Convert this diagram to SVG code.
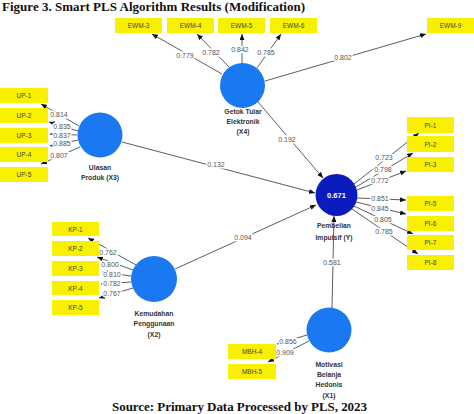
<svg xmlns="http://www.w3.org/2000/svg" width="474" height="414" viewBox="0 0 474 414">
<defs>
<marker id="ah" markerUnits="userSpaceOnUse" markerWidth="6" markerHeight="5" refX="6" refY="2.5" orient="auto">
<path d="M0,0 L6,2.5 L0,5 z" fill="#111"/>
</marker>
<style>
.title{font-family:"Liberation Serif",serif;font-weight:bold;font-size:13px;fill:#111}
.box{fill:#f8f000}
.bt{font-family:"Liberation Sans",sans-serif;font-size:6.5px;fill:#444;text-anchor:middle}
.lv{fill:#1a78f0}
.lvy{fill:#0a1cbe}
.nl{font-family:"Liberation Sans",sans-serif;font-size:6.8px;font-weight:bold;fill:#333;text-anchor:middle}
.ld{font-family:"Liberation Sans",sans-serif;font-size:7px;fill:#555;text-anchor:middle;paint-order:stroke;stroke:#fff;stroke-width:3px}
.c line{stroke:#333;stroke-width:0.8;marker-end:url(#ah)}
</style>
</defs>
<rect width="474" height="414" fill="#fff"/>
<text class="title" x="2" y="11" textLength="303">Figure 3. Smart PLS Algorithm Results (Modification)</text>
<text class="title" x="112" y="411" textLength="255">Source: Primary Data Processed by PLS, 2023</text>

<g id="connectors" class="c">
<line x1="222" y1="74" x2="152" y2="34"/>
<line x1="229" y1="67" x2="197" y2="34"/>
<line x1="242" y1="63" x2="242" y2="34"/>
<line x1="257" y1="68" x2="281" y2="34"/>
<line x1="265" y1="81" x2="426" y2="34"/>
<line x1="79" y1="126" x2="41" y2="104"/>
<line x1="78" y1="131" x2="49" y2="122"/>
<line x1="77" y1="135" x2="50" y2="134"/>
<line x1="78" y1="140" x2="50" y2="146"/>
<line x1="80" y1="147" x2="41" y2="164"/>
<line x1="354" y1="184" x2="419" y2="133"/>
<line x1="356" y1="187" x2="413" y2="153"/>
<line x1="357" y1="190" x2="406" y2="171"/>
<line x1="357" y1="198" x2="406" y2="200"/>
<line x1="356" y1="202" x2="406" y2="214"/>
<line x1="354" y1="206" x2="413" y2="234"/>
<line x1="352" y1="209" x2="418" y2="254"/>
<line x1="136" y1="265" x2="88" y2="238"/>
<line x1="133" y1="270" x2="97" y2="257"/>
<line x1="131" y1="276" x2="102" y2="272"/>
<line x1="131" y1="282" x2="101" y2="284"/>
<line x1="133" y1="288" x2="99" y2="298"/>
<line x1="307" y1="335" x2="277" y2="344"/>
<line x1="309" y1="341" x2="268" y2="362"/>
<line x1="258" y1="102" x2="323" y2="178"/>
<line x1="122" y1="142" x2="315" y2="193"/>
<line x1="175" y1="269" x2="316" y2="205"/>
<line x1="332" y1="308" x2="334" y2="216"/>
</g>

<g id="loadings">
<text class="ld" x="185" y="58">0.779</text>
<text class="ld" x="211" y="55">0.782</text>
<text class="ld" x="240" y="52">0.842</text>
<text class="ld" x="266" y="55">0.785</text>
<text class="ld" x="343" y="60">0.802</text>
<text class="ld" x="59" y="117">0.814</text>
<text class="ld" x="62" y="129">0.835</text>
<text class="ld" x="62" y="138">0.837</text>
<text class="ld" x="62" y="146">0.885</text>
<text class="ld" x="59" y="158">0.807</text>
<text class="ld" x="384" y="160">0.723</text>
<text class="ld" x="383" y="172">0.798</text>
<text class="ld" x="380" y="183">0.772</text>
<text class="ld" x="380" y="201">0.851</text>
<text class="ld" x="380" y="211">0.845</text>
<text class="ld" x="383" y="222">0.805</text>
<text class="ld" x="384" y="234">0.785</text>
<text class="ld" x="108" y="255">0.762</text>
<text class="ld" x="110" y="267">0.800</text>
<text class="ld" x="112" y="277">0.810</text>
<text class="ld" x="112" y="286">0.782</text>
<text class="ld" x="112" y="296">0.767</text>
<text class="ld" x="288" y="344">0.856</text>
<text class="ld" x="285" y="355">0.909</text>
<text class="ld" x="287" y="142">0.192</text>
<text class="ld" x="216" y="167">0.132</text>
<text class="ld" x="243" y="240">0.094</text>
<text class="ld" x="332" y="265">0.581</text>
</g>

<g id="EWM-3"><rect class="box" x="115" y="18" width="47" height="15"/><text class="bt" x="138.5" y="28">EWM-3</text></g>
<g id="EWM-4"><rect class="box" x="167" y="18" width="47" height="15"/><text class="bt" x="190.5" y="28">EWM-4</text></g>
<g id="EWM-5"><rect class="box" x="218" y="18" width="47" height="15"/><text class="bt" x="241.5" y="28">EWM-5</text></g>
<g id="EWM-6"><rect class="box" x="270" y="18" width="47" height="15"/><text class="bt" x="293.5" y="28">EWM-6</text></g>
<g id="EWM-9"><rect class="box" x="427" y="18" width="47" height="15"/><text class="bt" x="450.5" y="28">EWM-9</text></g>

<g id="UP-1"><rect class="box" x="0" y="88" width="48" height="15"/><text class="bt" x="24" y="98">UP-1</text></g>
<g id="UP-2"><rect class="box" x="0" y="108" width="48" height="15"/><text class="bt" x="24" y="118">UP-2</text></g>
<g id="UP-3"><rect class="box" x="0" y="128" width="48" height="15"/><text class="bt" x="24" y="138">UP-3</text></g>
<g id="UP-4"><rect class="box" x="0" y="147" width="48" height="15"/><text class="bt" x="24" y="157">UP-4</text></g>
<g id="UP-5"><rect class="box" x="0" y="167" width="48" height="15"/><text class="bt" x="24" y="177">UP-5</text></g>

<g id="PI-1"><rect class="box" x="407" y="117" width="47" height="16"/><text class="bt" x="430.5" y="127.5">PI-1</text></g>
<g id="PI-2"><rect class="box" x="407" y="136" width="47" height="16"/><text class="bt" x="430.5" y="146.5">PI-2</text></g>
<g id="PI-3"><rect class="box" x="407" y="157" width="47" height="15"/><text class="bt" x="430.5" y="167">PI-3</text></g>
<g id="PI-5"><rect class="box" x="407" y="196" width="47" height="15"/><text class="bt" x="430.5" y="206">PI-5</text></g>
<g id="PI-6"><rect class="box" x="407" y="216" width="47" height="15"/><text class="bt" x="430.5" y="226">PI-6</text></g>
<g id="PI-7"><rect class="box" x="407" y="235" width="47" height="15"/><text class="bt" x="430.5" y="245">PI-7</text></g>
<g id="PI-8"><rect class="box" x="407" y="255" width="47" height="15"/><text class="bt" x="430.5" y="265">PI-8</text></g>

<g id="KP-1"><rect class="box" x="52" y="222" width="47" height="14"/><text class="bt" x="75.5" y="231.5">KP-1</text></g>
<g id="KP-2"><rect class="box" x="52" y="241" width="47" height="15"/><text class="bt" x="75.5" y="251">KP-2</text></g>
<g id="KP-3"><rect class="box" x="52" y="261" width="47" height="15"/><text class="bt" x="75.5" y="271">KP-3</text></g>
<g id="KP-4"><rect class="box" x="52" y="281" width="47" height="14"/><text class="bt" x="75.5" y="290.5">KP-4</text></g>
<g id="KP-5"><rect class="box" x="52" y="300" width="47" height="15"/><text class="bt" x="75.5" y="310">KP-5</text></g>

<g id="MBH-4"><rect class="box" x="228" y="344" width="48" height="15"/><text class="bt" x="252" y="354">MBH-4</text></g>
<g id="MBH-5"><rect class="box" x="228" y="364" width="48" height="15"/><text class="bt" x="252" y="374">MBH-5</text></g>

<g id="X4"><circle class="lv" cx="242.5" cy="85.5" r="22.5"/>
<text class="nl" x="243" y="114">Getok Tular</text><text class="nl" x="243" y="124">Elektronik</text><text class="nl" x="243" y="134">(X4)</text></g>
<g id="X3"><circle class="lv" cx="100" cy="135" r="22.5"/>
<text class="nl" x="100" y="170">Ulasan</text><text class="nl" x="100" y="180">Produk (X3)</text></g>
<g id="Y"><circle class="lvy" cx="336.5" cy="195" r="21"/>
<text x="336.5" y="198" font-family="Liberation Sans,sans-serif" font-size="7.5" font-weight="bold" fill="#fff" text-anchor="middle">0.671</text>
<text class="nl" x="334" y="228">Pembelian</text><text class="nl" x="334" y="240">Impulsif (Y)</text></g>
<g id="X2"><circle class="lv" cx="154" cy="279" r="23"/>
<text class="nl" x="154" y="316">Kemudahan</text><text class="nl" x="154" y="326">Penggunaan</text><text class="nl" x="154" y="337">(X2)</text></g>
<g id="X1"><circle class="lv" cx="329" cy="330" r="22.5"/>
<text class="nl" x="329" y="367">Motivasi</text><text class="nl" x="329" y="377">Belanja</text><text class="nl" x="329" y="387">Hedonis</text><text class="nl" x="329" y="398">(X1)</text></g>
</svg>
